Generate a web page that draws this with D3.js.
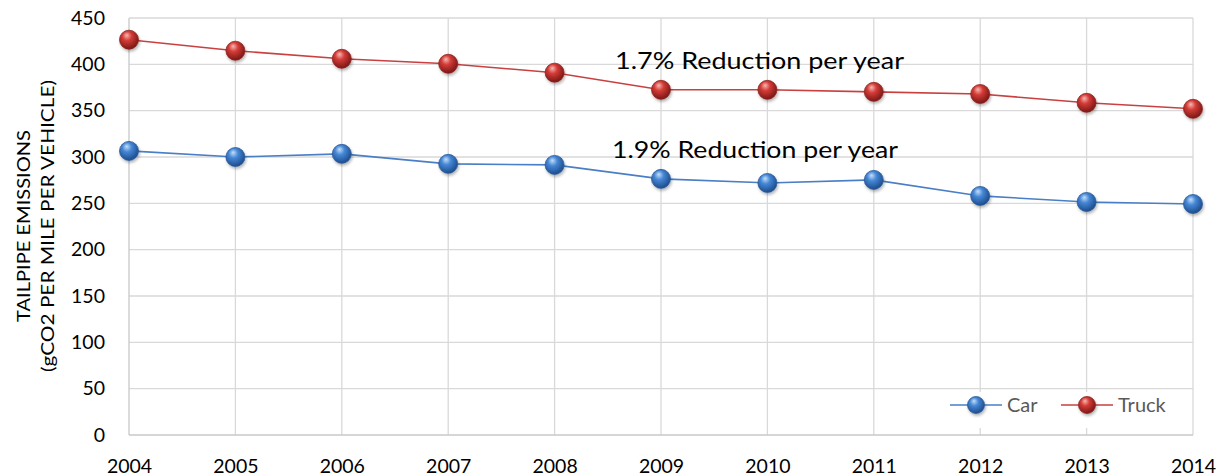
<!DOCTYPE html>
<html>
<head>
<meta charset="utf-8">
<script src="https://cdn.jsdelivr.net/npm/d3@7"></script>
<style>
  html, body { margin: 0; padding: 0; background: #fff; }
  svg { display: block; font-family: Lato, "Liberation Sans", sans-serif; }
</style>
</head>
<body>
<svg id="chart" width="1217" height="476"></svg>
<script>
// Tailpipe CO2 emissions per vehicle mile, 2004–2014
const years = [2004, 2005, 2006, 2007, 2008, 2009, 2010, 2011, 2012, 2013, 2014];
const carValues = [306.6, 300, 303.4, 292.6, 291.5, 276.4, 272, 275.3, 258, 251.5, 249.3];
const truckValues = [426.6, 414.7, 406, 400.6, 391, 372.5, 372.5, 370.3, 368, 358.5, 352];
const yTicks = [0, 50, 100, 150, 200, 250, 300, 350, 400, 450];
const seriesNames = ["Car", "Truck"];
const annotations = ["1.7% Reduction per year", "1.9% Reduction per year"];

const svg = d3.select("#chart");
const plotL = 129, plotR = 1193, plotT = 18, plotB = 435;

const x = d3.scalePoint().domain(years).range([plotL, plotR]);
const y = d3.scaleLinear().domain([0, 450]).range([plotB, plotT]);

// sphere-like marker gradients
const defs = svg.append("defs");
function sphere(id, light, mid, dark) {
  const g = defs.append("radialGradient").attr("id", id)
    .attr("cx", "42%").attr("cy", "38%").attr("r", "62%").attr("fx", "38%").attr("fy", "26%");
  g.append("stop").attr("offset", "0%").attr("stop-color", light);
  g.append("stop").attr("offset", "40%").attr("stop-color", mid);
  g.append("stop").attr("offset", "100%").attr("stop-color", dark);
}
sphere("ballCar", "#c4def8", "#4587d6", "#1d4c8c");
sphere("ballTruck", "#f6b8b0", "#d43b37", "#7a1816");
const shadow = defs.append("filter").attr("id", "shadow").attr("x", "-50%").attr("y", "-50%").attr("width", "200%").attr("height", "200%");
shadow.append("feGaussianBlur").attr("in", "SourceAlpha").attr("stdDeviation", 1.6);
shadow.append("feOffset").attr("dx", 1).attr("dy", 2).attr("result", "ob");
shadow.append("feComponentTransfer").append("feFuncA").attr("type", "linear").attr("slope", 0.3);
const merge = shadow.append("feMerge");
merge.append("feMergeNode");
merge.append("feMergeNode").attr("in", "SourceGraphic");

// gridlines
svg.append("g")
  .selectAll("line").data(yTicks.filter(d => d > 0)).join("line")
  .attr("x1", plotL).attr("x2", plotR)
  .attr("y1", d => y(d)).attr("y2", d => y(d))
  .attr("stroke", "#d9d9d9").attr("stroke-width", 1.3);
svg.append("g")
  .selectAll("line").data(years.slice(1)).join("line")
  .attr("x1", d => x(d)).attr("x2", d => x(d))
  .attr("y1", plotT).attr("y2", plotB)
  .attr("stroke", "#d9d9d9").attr("stroke-width", 1.3);

// axis lines
svg.append("line").attr("x1", plotL).attr("x2", plotL).attr("y1", plotT).attr("y2", plotB)
  .attr("stroke", "#c8c8c8").attr("stroke-width", 1.3);
svg.append("line").attr("x1", plotL).attr("x2", plotR).attr("y1", plotB).attr("y2", plotB)
  .attr("stroke", "#c8c8c8").attr("stroke-width", 1.3);

// y axis labels
const yAxis = d3.axisLeft(y).tickValues(yTicks).tickSize(0).tickPadding(24);
svg.append("g").attr("transform", `translate(${plotL},0)`).call(yAxis)
  .call(g => g.select(".domain").remove())
  .call(g => g.selectAll("text").attr("font-size", 19.5).attr("fill", "#000").attr("font-family", "Lato, sans-serif"));

// x axis labels
const xAxis = d3.axisBottom(x).tickSize(0).tickPadding(24).tickFormat(d3.format("d"));
svg.append("g").attr("transform", `translate(0,${plotB})`).call(xAxis)
  .call(g => g.select(".domain").remove())
  .call(g => g.selectAll("text").attr("font-size", 19.5).attr("fill", "#000").attr("font-family", "Lato, sans-serif"));

// y axis title (two lines, rotated)
const title = svg.append("text").attr("transform", "translate(0,226) rotate(-90)")
  .attr("text-anchor", "middle").attr("font-size", 17.5).attr("fill", "#000");
title.append("tspan").attr("x", 0).attr("y", 30)
  .attr("textLength", 192).attr("lengthAdjust", "spacingAndGlyphs").text("TAILPIPE EMISSIONS");
title.append("tspan").attr("x", 0).attr("y", 54)
  .attr("textLength", 292).attr("lengthAdjust", "spacingAndGlyphs").text("(gCO2 PER MILE PER VEHICLE)");

// series
const series = [
  { name: seriesNames[0], values: carValues, color: "#4a7ec6", ball: "url(#ballCar)", rim: "#2b5a99" },
  { name: seriesNames[1], values: truckValues, color: "#c94040", ball: "url(#ballTruck)", rim: "#8f2422" }
];
const line = d3.line().x((d, i) => x(years[i])).y(d => y(d));
series.forEach(s => {
  svg.append("path").datum(s.values).attr("d", line)
    .attr("fill", "none").attr("stroke", s.color).attr("stroke-width", 1.6);
  svg.append("g").selectAll("circle").data(s.values).join("circle")
    .attr("cx", (d, i) => x(years[i])).attr("cy", d => y(d)).attr("r", 9.5)
    .attr("fill", s.ball).attr("stroke", s.rim).attr("stroke-width", 0.8)
    .attr("filter", "url(#shadow)");
});

// annotations
svg.append("text").attr("x", 615).attr("y", 69)
  .attr("font-size", 23.5).attr("fill", "#000")
  .attr("textLength", 289).attr("lengthAdjust", "spacingAndGlyphs").text(annotations[0]);
svg.append("text").attr("x", 612).attr("y", 158)
  .attr("font-size", 23.5).attr("fill", "#000")
  .attr("textLength", 286).attr("lengthAdjust", "spacingAndGlyphs").text(annotations[1]);

// legend
const lg = svg.append("g");
lg.append("rect").attr("x", 932).attr("y", 392).attr("width", 255).attr("height", 36).attr("fill", "#fff");
const legendItems = [
  { s: series[0], x0: 950 },
  { s: series[1], x0: 1061 }
];
legendItems.forEach(({ s, x0 }) => {
  const cy = 405;
  lg.append("line").attr("x1", x0).attr("x2", x0 + 52).attr("y1", cy).attr("y2", cy)
    .attr("stroke", s.color).attr("stroke-width", 1.6);
  lg.append("circle").attr("cx", x0 + 26).attr("cy", cy).attr("r", 8.5)
    .attr("fill", s.ball).attr("stroke", s.rim).attr("stroke-width", 0.8).attr("filter", "url(#shadow)");
  lg.append("text").attr("x", x0 + 57).attr("y", cy + 7).attr("font-size", 20).attr("fill", "#595959").text(s.name);
});
</script>
</body>
</html>
